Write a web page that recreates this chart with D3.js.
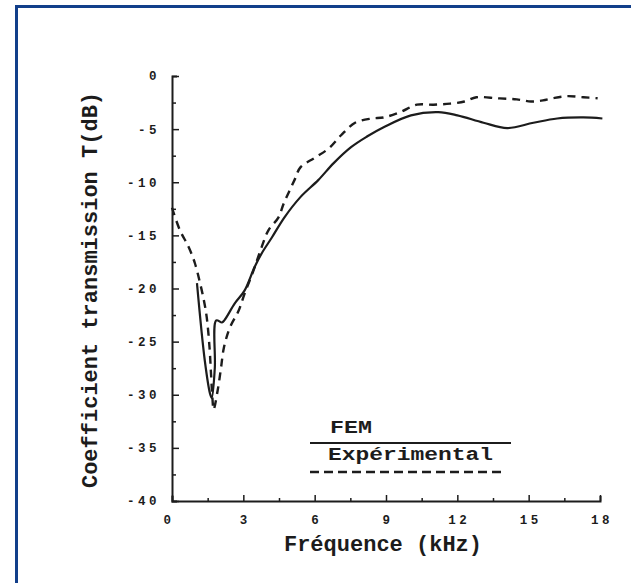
<!DOCTYPE html>
<html>
<head>
<meta charset="utf-8">
<script src="https://cdn.jsdelivr.net/npm/d3@7"></script>
<style>
html,body{margin:0;padding:0;background:#fff;}
svg{display:block;}
</style>
</head>
<body>
<svg id="chart" width="631" height="583"></svg>
<script>
// ---- data ----
const xTicks = [0, 3, 6, 9, 12, 15, 18];
const yTicks = [0, -5, -10, -15, -20, -25, -30, -35, -40];
const xTickLabels = ["0", "3", "6", "9", "12", "15", "18"];
const yTickLabels = ["0", "-5", "-10", "-15", "-20", "-25", "-30", "-35", "-40"];

const femFreq = [1.05, 1.38, 1.6, 1.67, 1.8, 1.86, 2.1, 2.2, 2.64, 3.05, 3.47, 3.77, 4.2, 4.73, 5.4, 6.15, 6.8, 7.53, 8.2, 8.92, 10.05, 11.2, 12.0, 13.1, 14.1, 15.2, 16.2, 17.3, 18.1];
const femT    = [-19.5, -26.8, -29.9, -30.3, -27.5, -23.0, -23.2, -23.0, -21.4, -20.2, -18.0, -16.7, -15.2, -13.3, -11.4, -9.8, -8.2, -6.7, -5.7, -4.8, -3.7, -3.4, -3.7, -4.4, -4.9, -4.4, -4.0, -3.9, -4.0];

const expFreq = [0.0, 0.33, 0.7, 0.96, 1.17, 1.34, 1.46, 1.58, 1.64, 1.7, 1.75, 1.92, 2.06, 2.18, 2.43, 2.8, 3.05, 3.43, 3.77, 4.06, 4.48, 4.7, 5.15, 5.4, 6.0, 6.6, 7.1, 7.7, 8.4, 8.9, 9.6, 10.3, 11.0, 11.7, 12.3, 12.8, 13.7, 14.5, 15.1, 15.6, 16.0, 16.6, 17.3, 17.9];
const expT    = [-12.4, -14.5, -16.1, -17.6, -19.4, -21.1, -22.7, -25.6, -28.0, -30.3, -31.4, -29.6, -27.5, -25.6, -23.7, -22.1, -20.5, -18.3, -16.1, -14.5, -13.3, -12.0, -9.8, -8.6, -7.7, -6.8, -5.6, -4.4, -4.0, -3.9, -3.4, -2.7, -2.7, -2.6, -2.4, -2.0, -2.1, -2.2, -2.4, -2.3, -2.1, -1.9, -2.0, -2.1];

const legendLabels = ["FEM", "Expérimental"];
const xTitle = "Fréquence (kHz)";
const yTitle = "Coefficient transmission T(dB)";

// ---- drawing ----
const svg = d3.select("#chart");
const ink = "#1c1c1c";
const font = "'Liberation Mono', 'DejaVu Sans Mono', monospace";

// blue frame
svg.append("rect").attr("x", 16.5).attr("y", 6.5).attr("width", 640).attr("height", 600)
  .attr("fill", "none").attr("stroke", "#123f8a").attr("stroke-width", 3);

const x = d3.scaleLinear().domain([0, 18]).range([172, 600]);
const y = d3.scaleLinear().domain([0, -40]).range([76, 501]);

// y axis
const yAxis = d3.axisRight(y).tickValues(d3.range(0, -40.1, -2.5)).tickSize(5).tickFormat("");
const gy = svg.append("g").attr("transform", `translate(${x(0)},0)`).call(yAxis);
gy.select(".domain").attr("stroke", ink).attr("stroke-width", 2);
gy.selectAll(".tick line").attr("stroke", ink).attr("stroke-width", 1.5)
  .attr("x2", d => (d % 5 === 0 ? 7 : 4));

// x axis
const xAxis = d3.axisTop(x).tickValues(d3.range(0, 18.01, 1.5)).tickSize(5).tickFormat("");
const gx = svg.append("g").attr("transform", `translate(0,${y(-40)})`).call(xAxis);
gx.select(".domain").attr("stroke", ink).attr("stroke-width", 2);
gx.selectAll(".tick line").attr("stroke", ink).attr("stroke-width", 1.5)
  .attr("y2", d => (d % 3 === 0 ? -6 : -3));

// tick labels
svg.append("g").selectAll("text").data(yTicks).join("text")
  .attr("x", 160).attr("y", d => y(d)).attr("dy", "0.35em")
  .attr("text-anchor", "end").attr("font-family", font).attr("font-weight", "bold")
  .attr("font-size", 12.5).attr("letter-spacing", "3.5px").attr("fill", ink)
  .text((d, i) => yTickLabels[i]);

svg.append("g").selectAll("text").data(xTicks).join("text")
  .attr("x", d => x(d) - (d === 0 ? 5 : 0) + 2).attr("y", 524)
  .attr("text-anchor", "middle").attr("font-family", font).attr("font-weight", "bold")
  .attr("font-size", 12.5).attr("letter-spacing", "3.5px").attr("fill", ink)
  .text((d, i) => xTickLabels[i]);

// titles
svg.append("text").attr("x", 383).attr("y", 551).attr("text-anchor", "middle")
  .attr("font-family", font).attr("font-weight", "bold").attr("font-size", 22).attr("fill", ink)
  .text(xTitle);

svg.append("text").attr("transform", "translate(97,290) rotate(-90)").attr("text-anchor", "middle")
  .attr("font-family", font).attr("font-weight", "bold").attr("font-size", 22).attr("fill", ink)
  .text(yTitle);

// curves
const line = d3.line().x(d => x(d[0])).y(d => y(d[1])).curve(d3.curveCatmullRom.alpha(0.5));
const femData = femFreq.map((f, i) => [f, femT[i]]);
const expData = expFreq.map((f, i) => [f, expT[i]]);

svg.append("path").datum(femData).attr("d", line).attr("fill", "none")
  .attr("stroke", ink).attr("stroke-width", 2.2);
svg.append("path").datum(expData).attr("d", line).attr("fill", "none")
  .attr("stroke", ink).attr("stroke-width", 2.4).attr("stroke-dasharray", "8,6");

// legend
svg.append("text").attr("x", 330).attr("y", 433).attr("font-family", font).attr("font-weight", "bold")
  .attr("font-size", 19).attr("fill", ink).attr("textLength", 42).attr("lengthAdjust", "spacingAndGlyphs")
  .text(legendLabels[0]);
svg.append("line").attr("x1", 310).attr("x2", 511).attr("y1", 443).attr("y2", 443)
  .attr("stroke", ink).attr("stroke-width", 2.2);
svg.append("text").attr("x", 328).attr("y", 460).attr("font-family", font).attr("font-weight", "bold")
  .attr("font-size", 19).attr("fill", ink).attr("textLength", 165).attr("lengthAdjust", "spacingAndGlyphs")
  .text(legendLabels[1]);
svg.append("line").attr("x1", 310).attr("x2", 502).attr("y1", 472).attr("y2", 472)
  .attr("stroke", ink).attr("stroke-width", 2.4).attr("stroke-dasharray", "9,5");
</script>
</body>
</html>
